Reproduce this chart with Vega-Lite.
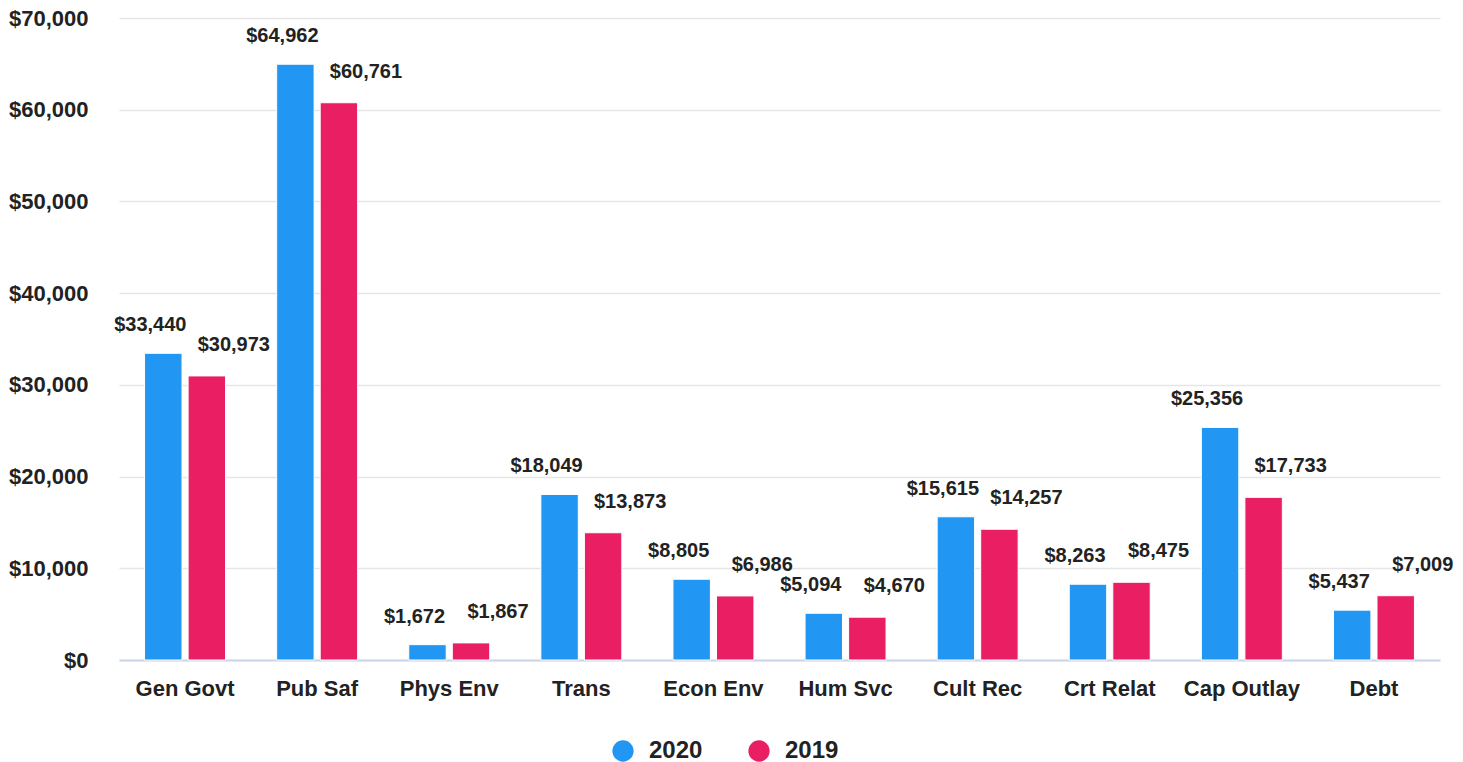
{
  "$schema": "https://vega.github.io/schema/vega-lite/v6.json",
  "width": 1321,
  "height": 642,
  "autosize": {"type": "none"},
  "padding": {"left": 119, "top": 18, "right": 23, "bottom": 102},
  "background": "white",
  "config": {
    "font": "Liberation Sans",
    "view": {"stroke": null}
  },
  "data": {
    "values": [
      {"cat": "Gen Govt", "year": "2020", "value": 33440},
      {"cat": "Gen Govt", "year": "2019", "value": 30973},
      {"cat": "Pub Saf", "year": "2020", "value": 64962},
      {"cat": "Pub Saf", "year": "2019", "value": 60761},
      {"cat": "Phys Env", "year": "2020", "value": 1672},
      {"cat": "Phys Env", "year": "2019", "value": 1867},
      {"cat": "Trans", "year": "2020", "value": 18049},
      {"cat": "Trans", "year": "2019", "value": 13873},
      {"cat": "Econ Env", "year": "2020", "value": 8805},
      {"cat": "Econ Env", "year": "2019", "value": 6986},
      {"cat": "Hum Svc", "year": "2020", "value": 5094},
      {"cat": "Hum Svc", "year": "2019", "value": 4670},
      {"cat": "Cult Rec", "year": "2020", "value": 15615},
      {"cat": "Cult Rec", "year": "2019", "value": 14257},
      {"cat": "Crt Relat", "year": "2020", "value": 8263},
      {"cat": "Crt Relat", "year": "2019", "value": 8475},
      {"cat": "Cap Outlay", "year": "2020", "value": 25356},
      {"cat": "Cap Outlay", "year": "2019", "value": 17733},
      {"cat": "Debt", "year": "2020", "value": 5437},
      {"cat": "Debt", "year": "2019", "value": 7009}
    ]
  },
  "encoding": {
    "x": {
      "field": "cat",
      "type": "nominal",
      "sort": ["Gen Govt", "Pub Saf", "Phys Env", "Trans", "Econ Env", "Hum Svc", "Cult Rec", "Crt Relat", "Cap Outlay", "Debt"],
      "scale": {"paddingInner": 0.387, "paddingOuter": 0.1935},
      "axis": {
        "title": null,
        "labelAngle": 0,
        "labelFontSize": 22,
        "labelFontWeight": "bold",
        "labelColor": "#222222",
        "labelPadding": 18,
        "ticks": false,
        "domainColor": "#ccd6eb",
        "domainWidth": 2,
        "grid": false
      }
    },
    "xOffset": {
      "field": "year",
      "type": "nominal",
      "sort": ["2020", "2019"],
      "scale": {"paddingInner": 0.14, "paddingOuter": 0}
    },
    "y": {
      "field": "value",
      "type": "quantitative",
      "scale": {"domain": [0, 70000], "nice": false},
      "axis": {
        "title": null,
        "values": [0, 10000, 20000, 30000, 40000, 50000, 60000, 70000],
        "format": "$,.0f",
        "labelFontSize": 22,
        "labelFontWeight": "bold",
        "labelColor": "#222222",
        "labelPadding": 31,
        "ticks": false,
        "tickSize": 0,
        "domain": false,
        "gridColor": "#e6e6e6",
        "gridWidth": 1.5
      }
    }
  },
  "layer": [
    {
      "mark": {"type": "bar", "stroke": "white", "strokeWidth": 1},
      "encoding": {
        "color": {
          "field": "year",
          "type": "nominal",
          "scale": {"domain": ["2020", "2019"], "range": ["#2196F3", "#E91E63"]},
          "legend": {
            "title": null,
            "orient": "none",
            "direction": "horizontal",
            "legendX": 492,
            "legendY": 721,
            "symbolType": "circle",
            "symbolSize": 452,
            "symbolStrokeWidth": 0,
            "labelFontSize": 24,
            "labelFontWeight": "bold",
            "labelColor": "#222222",
            "labelOffset": 14,
            "columnPadding": 44,
            "padding": 0
          }
        }
      }
    },
    {
      "transform": [{"filter": "datum.year == '2020'"}],
      "mark": {"type": "text", "fontSize": 20, "fontWeight": "bold", "color": "#222222", "baseline": "bottom", "dx": -13, "dy": -18},
      "encoding": {
        "text": {"field": "value", "type": "quantitative", "format": "$,.0f"}
      }
    },
    {
      "transform": [{"filter": "datum.year == '2019'"}],
      "mark": {"type": "text", "fontSize": 20, "fontWeight": "bold", "color": "#222222", "baseline": "bottom", "dx": 27, "dy": -21},
      "encoding": {
        "text": {"field": "value", "type": "quantitative", "format": "$,.0f"}
      }
    }
  ]
}
